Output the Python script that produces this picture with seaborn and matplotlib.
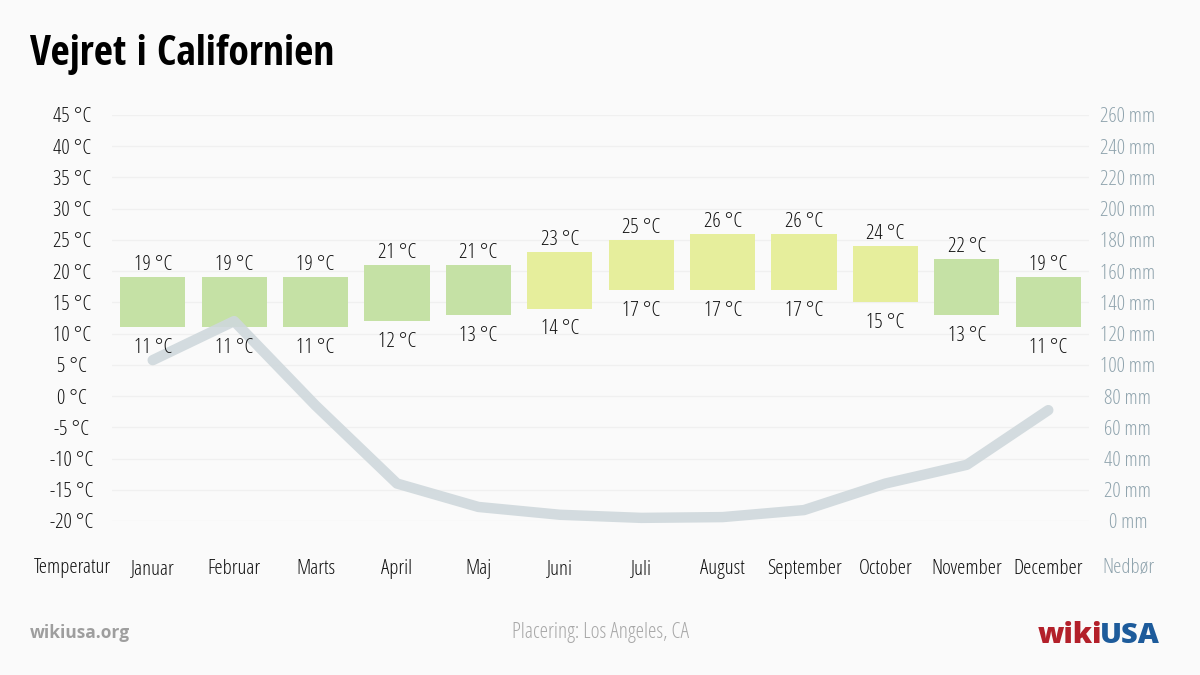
import dataclasses
import os
import numpy as np
import pandas as pd
import matplotlib
matplotlib.use("Agg")
import matplotlib.pyplot as plt
from matplotlib import font_manager
import seaborn as sns

months = ["Januar", "Februar", "Marts", "April", "Maj", "Juni", "Juli",
          "August", "September", "October", "November", "December"]
temp_max = [19, 19, 19, 21, 21, 23, 25, 26, 26, 24, 22, 19]
temp_min = [11, 11, 11, 12, 13, 14, 17, 17, 17, 15, 13, 11]
precip = [103, 128, 74, 24, 9, 4, 2, 2.5, 7, 24, 36, 71]
temp_ticks = list(range(-20, 50, 5))
precip_ticks = list(range(0, 280, 20))

GREEN = "#c5e1a5"
LIME = "#e6ee9c"
LINE = "#cfd8dc"
RIGHT_COL = "#90a4ae"
BG = "#fafafa"
TXT = "#111111"

sns.set_theme(style="white")

# register the condensed light Open Sans under its own name
fm = font_manager.fontManager
light = None
for f in fm.ttflist:
    if os.path.basename(f.fname) == "OpenSans-CondLight.ttf":
        light = f
        break
if light is None:
    for f in fm.ttflist:
        if os.path.basename(f.fname) == "RobotoCondensed-Light.ttf":
            light = f
            break
if light is not None:
    fm.ttflist.append(dataclasses.replace(light, name="OSCondLight"))
    try:
        fm._findfont_cached.cache_clear()
    except Exception:
        pass
    fam = "OSCondLight"
else:
    fam = "Open Sans"
names = {f.name for f in fm.ttflist}
bfam = "Open Sans Condensed" if "Open Sans Condensed" in names else "Roboto Condensed"

plt.rcParams["font.family"] = [fam, "DejaVu Sans"]
fs = 15

fig = plt.figure(figsize=(12, 6.75), dpi=100, facecolor=BG)
ax = fig.add_axes([112 / 1200, 1 - 521 / 675, (1089 - 112) / 1200, (521 - 115) / 675])
ax.set_facecolor(BG)

df = pd.DataFrame({"month": months, "lo": temp_min, "hi": temp_max})
df["span"] = df["hi"] - df["lo"]
colors = [LIME if h >= 23 else GREEN for h in temp_max]
sns.barplot(data=df, x="month", y="span", color=GREEN, bottom=df["lo"].values,
            width=0.8, ax=ax, saturation=1, linewidth=0, edgecolor="none", zorder=2)
for patch, c in zip(ax.patches, colors):
    patch.set_facecolor(c)

ax.set_ylim(-20, 45)
ax.set_xlim(-0.5, 11.5)
ax.set_yticks(temp_ticks)
ax.set_yticklabels([f"{v} °C" for v in temp_ticks], fontsize=fs, color=TXT,
                   ha="center")
ax.tick_params(axis="y", length=0, pad=29)
ax.set_xticks(range(12))
ax.set_xticklabels(months, fontsize=fs, color=TXT)
ax.tick_params(axis="x", length=0, pad=27.5)
ax.set_xlabel("")
ax.set_ylabel("")
ax.grid(axis="y", color="#f0f0f0", lw=1, zorder=0)
ax.set_axisbelow(True)
for s in ax.spines.values():
    s.set_visible(False)

ax2 = ax.twinx()
sns.lineplot(x=np.arange(12), y=precip, ax=ax2, color=LINE, lw=7.5,
             solid_capstyle="round", solid_joinstyle="round", alpha=0.9, clip_on=False)
ax2.set_ylim(0, 260)
ax2.set_yticks(precip_ticks)
ax2.set_yticklabels([f"{v} mm" for v in precip_ticks], fontsize=fs, color=RIGHT_COL,
                    ha="center")
ax2.tick_params(axis="y", length=0, pad=28)
ax2.set_ylabel("")
ax2.grid(False)
for s in ax2.spines.values():
    s.set_visible(False)

for i, (lo, hi) in enumerate(zip(temp_min, temp_max)):
    ax2.annotate(f"{hi} °C", xy=(i, hi), xycoords=ax.transData, xytext=(0, 5),
                 textcoords="offset points", ha="center", va="baseline",
                 fontsize=fs, color=TXT)
    ax2.annotate(f"{lo} °C", xy=(i, lo), xycoords=ax.transData, xytext=(0, -18.5),
                 textcoords="offset points", ha="center", va="baseline",
                 fontsize=fs, color=TXT)

fig.text(72 / 1200, 1 - 568 / 675, "Temperatur", ha="center", va="center",
         fontsize=fs, color=TXT)
fig.text(1128 / 1200, 1 - 568 / 675, "Nedbør", ha="center", va="center",
         fontsize=fs, color=RIGHT_COL)

fig.text(30 / 1200, 1 - 65 / 675, "Vejret i Californien", ha="left", va="baseline",
         fontsize=30, fontweight="bold", color="#000000",
         family=[bfam, "DejaVu Sans"])

fig.text(30 / 1200, 1 - 638 / 675, "wikiusa.org", ha="left", va="baseline",
         fontsize=12.5, fontweight="bold", color="#9e9e9e",
         family=["Open Sans", "DejaVu Sans"])
fig.text(600 / 1200, 1 - 638 / 675, "Placering: Los Angeles, CA", ha="center",
         va="baseline", fontsize=15.5, color="#a8a8a8")
wiki = fig.text(1038 / 1200, 1 - 643 / 675, "wiki", ha="left", va="baseline",
                fontsize=21, fontweight="heavy", color="#b3202a",
                family=["Open Sans", "DejaVu Sans"])
ax2.annotate("USA", xy=(1, 0), xycoords=wiki, xytext=(-2, 0),
             textcoords="offset points", ha="left", va="bottom",
             fontsize=21, fontweight="heavy", color="#1d5b9b",
             family=["Open Sans", "DejaVu Sans"], annotation_clip=False)

fig.savefig("out.png", dpi=100, facecolor=BG)
